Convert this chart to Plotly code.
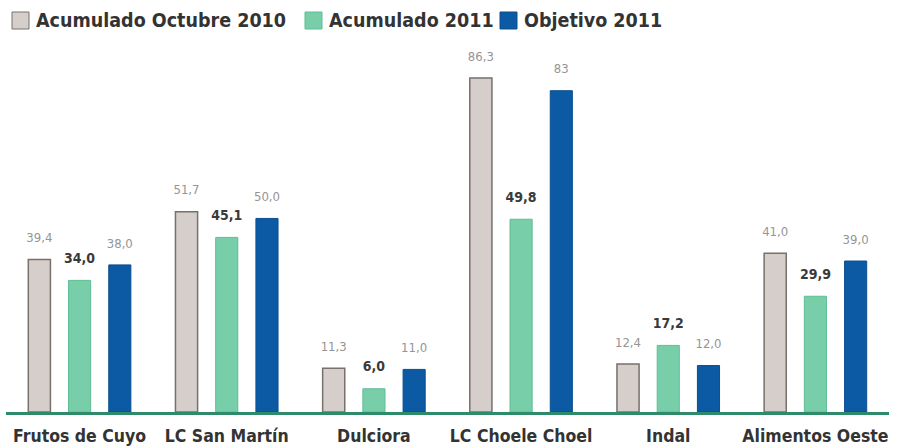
import plotly.graph_objects as go

# data
empresas = ["Frutos de Cuyo", "LC San Martín", "Dulciora",
            "LC Choele Choel", "Indal", "Alimentos Oeste"]
acumulado_oct_2010 = [39.4, 51.7, 11.3, 86.3, 12.4, 41.0]
acumulado_2011 = [34.0, 45.1, 6.0, 49.8, 17.2, 29.9]
objetivo_2011 = [38.0, 50.0, 11.0, 83.0, 12.0, 39.0]


def fmt(v):
    # comma decimal separator, as printed in the original
    return f"{v:.1f}".replace(".", ",")


objetivo_text = [fmt(v) for v in objetivo_2011]
objetivo_text[3] = "83"

FONT = "DejaVu Sans Condensed"
GAP = 0.18
W, H = 900, 448
M = dict(l=6, r=11, t=40, b=36)

series = [
    ("Acumulado Octubre 2010", acumulado_oct_2010, "#d6cecb", "#77706d", 1.5,
     [fmt(v) for v in acumulado_oct_2010], dict(size=13, color="#959595")),
    ("Acumulado 2011", acumulado_2011, "#78cea8", "#5fbd95", 1,
     [f"<b>{fmt(v)}</b>" for v in acumulado_2011], dict(size=14, color="#3a3a3a")),
    ("Objetivo 2011", objetivo_2011, "#0b5aa3", "#0a4f91", 1,
     objetivo_text, dict(size=13, color="#959595")),
]

fig = go.Figure()

for i, (name, vals, col, edge, lw, txt, tf) in enumerate(series):
    fig.add_trace(go.Bar(
        name=name,
        x=empresas,
        y=vals,
        offsetgroup=str(i),
        marker=dict(color=col, line=dict(color=edge, width=lw)),
    ))

# value labels, floating a bit above each bar
for i, (name, vals, col, edge, lw, txt, tf) in enumerate(series):
    fig.add_trace(go.Scatter(
        x=empresas,
        y=vals,
        offsetgroup=str(i),
        mode="markers+text",
        marker=dict(size=21, color="rgba(0,0,0,0)"),
        text=txt,
        textposition="top center",
        textfont=dict(family=FONT, **tf),
        showlegend=False,
        hoverinfo="skip",
        cliponaxis=False,
    ))


# hand-drawn legend across the top (pixel -> paper coords)
def px(x):
    return (x - M["l"]) / (W - M["l"] - M["r"])


def py(y):
    return (H - M["b"] - y) / (H - M["t"] - M["b"])


legend_x = [12, 305, 500]
for (name, vals, col, edge, lw, txt, tf), lx in zip(series, legend_x):
    fig.add_shape(
        type="rect", xref="paper", yref="paper",
        x0=px(lx), x1=px(lx + 17), y0=py(29), y1=py(12),
        fillcolor=col, line=dict(color=edge, width=1),
    )
    fig.add_annotation(
        xref="paper", yref="paper", x=px(lx + 22), y=py(20.5),
        xanchor="left", yanchor="middle", showarrow=False,
        text=f"<b>{name}</b>",
        font=dict(family=FONT, size=19.5, color="#333333"),
    )

fig.update_layout(
    width=W,
    height=H,
    margin=M,
    paper_bgcolor="white",
    plot_bgcolor="white",
    barmode="group",
    bargap=GAP,
    bargroupgap=0.45,
    scattermode="group",
    scattergap=GAP,
    font=dict(family=FONT, color="#333333"),
    showlegend=False,
    xaxis=dict(
        range=[-0.5, len(empresas) - 0.5],
        automargin=False,
        showgrid=False,
        showline=True,
        linecolor="#2e8a68",
        linewidth=3,
        ticks="",
        ticklabelstandoff=6,
        tickfont=dict(family=FONT, size=17.5, color="#333333", weight="bold"),
    ),
    yaxis=dict(
        automargin=False,
        range=[0, 96.1],
        visible=False,
        showgrid=False,
        zeroline=False,
    ),
)

fig.write_html("out.html", config={"displayModeBar": False},
               post_script="document.body.style.margin='0';")
